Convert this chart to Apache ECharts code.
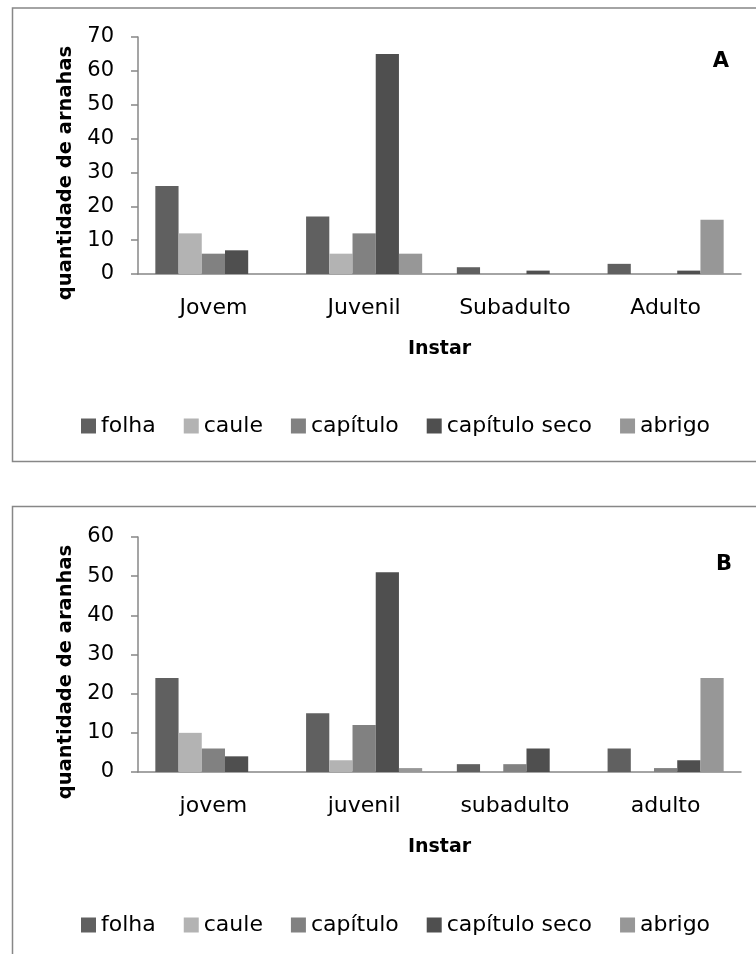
<!DOCTYPE html>
<html><head><meta charset="utf-8">
<script src="https://cdn.jsdelivr.net/npm/echarts@6/dist/echarts.min.js"></script>
<style>html,body{margin:0;padding:0;background:#fff}#c{width:756px;height:954px}</style>
</head><body><div id="c"></div>
<script>
const seriesNames = ['folha','caule','capítulo','capítulo seco','abrigo'];
const seriesColors = ['#606060','#b3b3b3','#818181','#4f4f4f','#979797'];
const categoriesA = ['Jovem','Juvenil','Subadulto','Adulto'];
const categoriesB = ['jovem','juvenil','subadulto','adulto'];
const folhaA = [26, 17, 2, 3];
const cauleA = [12, 6, 0, 0];
const capituloA = [6, 12, 0, 0];
const capituloSecoA = [7, 65, 1, 1];
const abrigoA = [0, 6, 0, 16];
const folhaB = [24, 15, 2, 6];
const cauleB = [10, 3, 0, 0];
const capituloB = [6, 12, 2, 1];
const capituloSecoB = [4, 51, 6, 3];
const abrigoB = [0, 1, 0, 24];
const yTicksA = {min:0, max:70, interval:10};
const yTicksB = {min:0, max:60, interval:10};

const FONT = 'DejaVu Sans';
const dataA = [folhaA, cauleA, capituloA, capituloSecoA, abrigoA];
const dataB = [folhaB, cauleB, capituloB, capituloSecoB, abrigoB];

function xAx(cats, gi){
  return {type:'category', gridIndex:gi, data:cats,
    axisLine:{lineStyle:{color:'#878787', width:1.5}}, axisTick:{show:false},
    axisLabel:{color:'#000', fontFamily:FONT, fontSize:22, margin:23},
    name:'Instar', nameLocation:'middle', nameGap:66,
    nameTextStyle:{color:'#000', fontFamily:FONT, fontSize:19, fontWeight:'bold'}};
}
function yAx(t, gi){
  return {type:'value', gridIndex:gi, min:t.min, max:t.max, interval:t.interval,
    splitLine:{show:false},
    axisLine:{show:true, lineStyle:{color:'#878787', width:1.5}},
    axisTick:{show:true, inside:false, length:7, lineStyle:{color:'#878787', width:1.5}},
    axisLabel:{color:'#000', fontFamily:FONT, fontSize:21, margin:24}};
}
const series = [];
seriesNames.forEach((n,i)=>{
  series.push({name:n, type:'bar', xAxisIndex:0, yAxisIndex:0, data:dataA[i],
    itemStyle:{color:seriesColors[i]}, barGap:'0%', barCategoryGap:'23%'});
});
seriesNames.forEach((n,i)=>{
  series.push({name:n, type:'bar', xAxisIndex:1, yAxisIndex:1, data:dataB[i],
    itemStyle:{color:seriesColors[i]}, barGap:'0%', barCategoryGap:'23%'});
});
function legend(top){
  return {top:top, left:76, itemWidth:15, itemHeight:15, itemGap:28, icon:'rect',
    data:seriesNames, textStyle:{color:'#000', fontFamily:FONT, fontSize:22}, selectedMode:false};
}
const chart = echarts.init(document.getElementById('c'), null, {renderer:'canvas'});
chart.setOption({
  animation:false,
  grid:[{left:138, top:37, width:603, height:237},{left:138, top:537, width:603, height:235}],
  xAxis:[xAx(categoriesA,0), xAx(categoriesB,1)],
  yAxis:[yAx(yTicksA,0), yAx(yTicksB,1)],
  legend:[legend(410), legend(909)],
  series:series,
  graphic:[
    {type:'rect', shape:{x:12.5, y:8, width:760, height:453.5}, style:{fill:'none', stroke:'#878787', lineWidth:1.5}, silent:true},
    {type:'rect', shape:{x:12.5, y:506.5, width:760, height:470}, style:{fill:'none', stroke:'#878787', lineWidth:1.5}, silent:true},
    {type:'text', x:721, y:62, style:{text:'A', fontFamily:FONT, fontSize:21, fontWeight:'bold', fill:'#000', align:'center', verticalAlign:'middle'}},
    {type:'text', x:724, y:565, style:{text:'B', fontFamily:FONT, fontSize:21, fontWeight:'bold', fill:'#000', align:'center', verticalAlign:'middle'}},
    {type:'text', x:66, y:173, rotation:Math.PI/2, style:{text:'quantidade de arnahas', fontFamily:FONT, fontSize:19.5, fontWeight:'bold', fill:'#000', align:'center', verticalAlign:'middle'}},
    {type:'text', x:66, y:672, rotation:Math.PI/2, style:{text:'quantidade de aranhas', fontFamily:FONT, fontSize:19.5, fontWeight:'bold', fill:'#000', align:'center', verticalAlign:'middle'}}
  ]
});
</script></body></html>
